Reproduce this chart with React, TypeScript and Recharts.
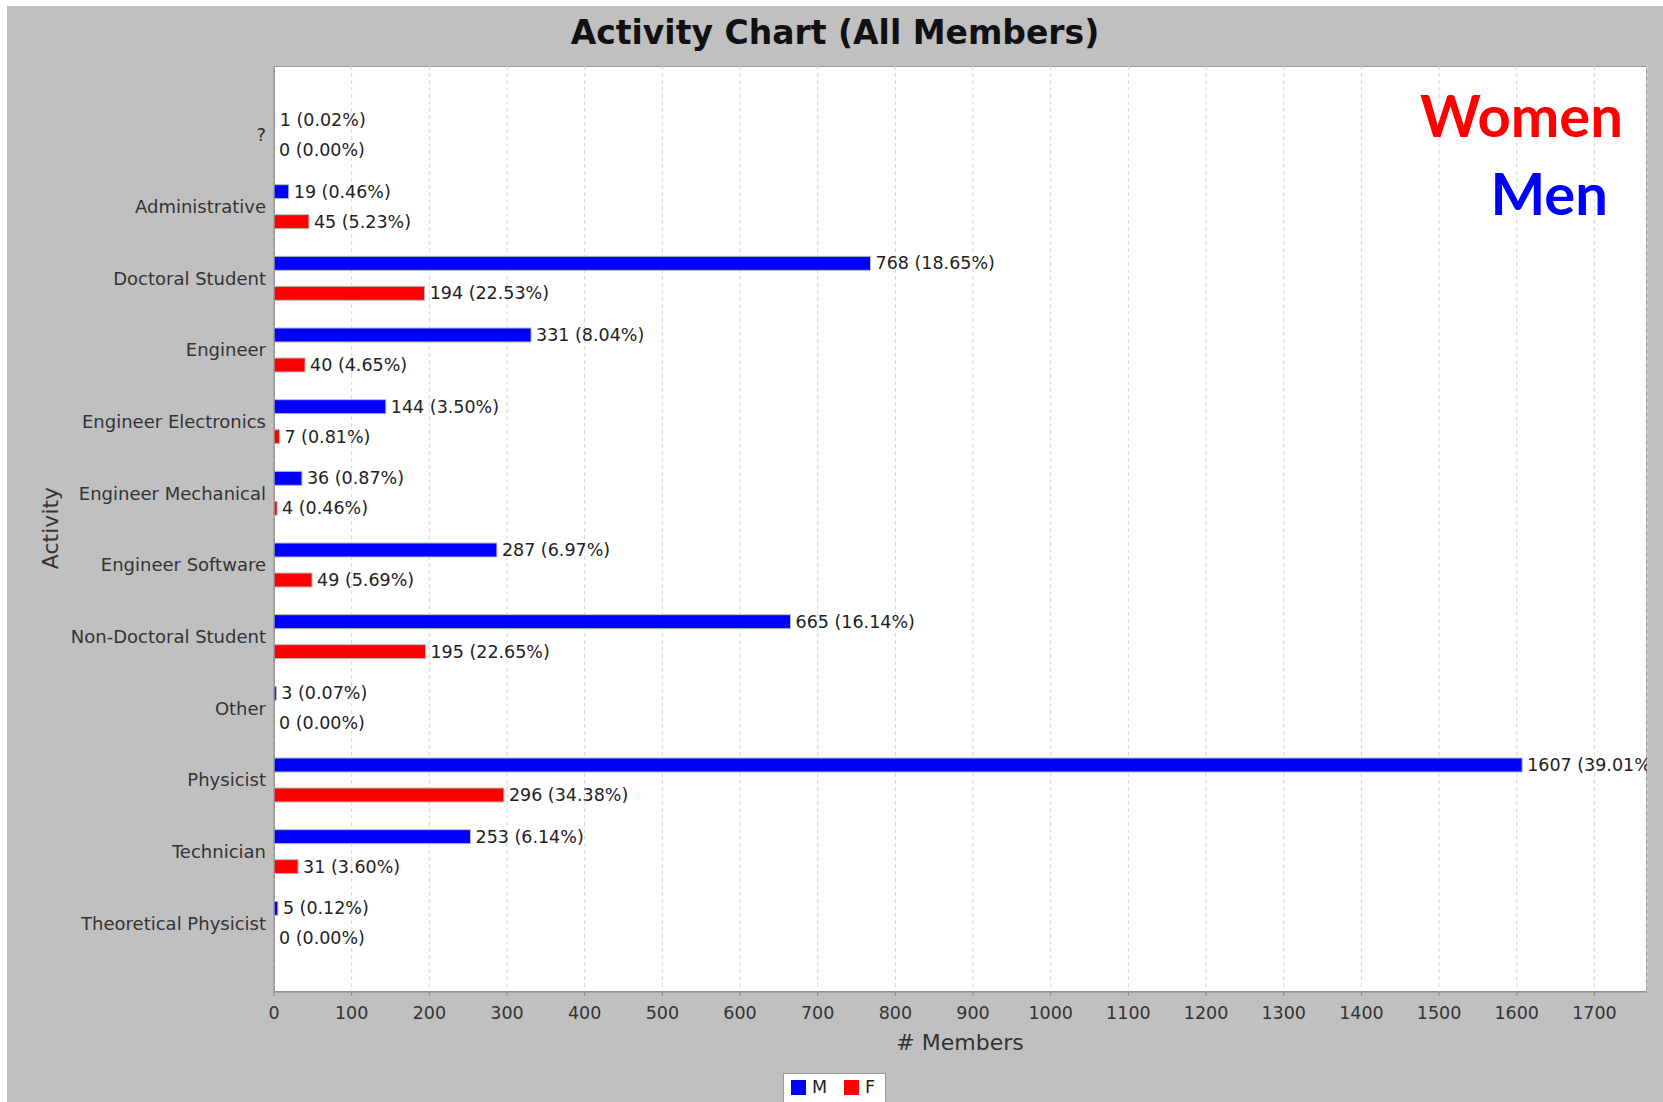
import React from 'react';
import { BarChart, Bar, XAxis, YAxis, CartesianGrid, LabelList, Cell } from 'recharts';

const CATEGORIES = [
    '?',
    'Administrative',
    'Doctoral Student',
    'Engineer',
    'Engineer Electronics',
    'Engineer Mechanical',
    'Engineer Software',
    'Non-Doctoral Student',
    'Other',
    'Physicist',
    'Technician',
    'Theoretical Physicist',
];
const MEN = [1, 19, 768, 331, 144, 36, 287, 665, 3, 1607, 253, 5];
const WOMEN = [0, 45, 194, 40, 7, 4, 49, 195, 0, 296, 31, 0];
const MEN_PCT = ['0.02', '0.46', '18.65', '8.04', '3.50', '0.87', '6.97', '16.14', '0.07', '39.01', '6.14', '0.12'];
const WOMEN_PCT = ['0.00', '5.23', '22.53', '4.65', '0.81', '0.46', '5.69', '22.65', '0.00', '34.38', '3.60', '0.00'];
const X_TICKS = [0, 100, 200, 300, 400, 500, 600, 700, 800, 900, 1000, 1100, 1200, 1300, 1400, 1500, 1600, 1700];

const SERIES = [
    { key: 'M', label: 'mLabel', name: 'M', color: '#0000ff' },
    { key: 'F', label: 'fLabel', name: 'F', color: '#ff0000' },
];

const rows: Record<string, any>[] = CATEGORIES.map((name, i) => ({
    name,
    M: MEN[i],
    F: WOMEN[i],
    mLabel: `${MEN[i]} (${MEN_PCT[i]}%)`,
    fLabel: `${WOMEN[i]} (${WOMEN_PCT[i]}%)`,
}));

const FONT = '"DejaVu Sans", Verdana, sans-serif';
const W = 1656;
const H = 1096;
// plot area inside the chart svg
const PLOT = { left: 267, top: 60, right: 1640, bottom: 986 };

const ValueLabel = (props: any) => {
    const { x, y, width, height, value } = props;
    return (
        <text
            x={Number(x) + Number(width) + 5}
            y={Number(y) + Number(height) / 2}
            dominantBaseline="central"
            fontSize={17.5}
            fontFamily={FONT}
            fill="#222"
            clipPath="url(#plotClip)"
        >
            {value}
        </text>
    );
};

// zero bars get a hair-thin width so their value label still shows
const keepZero = (v: any) => (Number(v) === 0 ? 0.01 : 0);

const App: React.FC = () => {
    return (
        <div style={{ position: 'absolute', left: 7, top: 6, width: W, height: H, background: '#c0c0c0', overflow: 'hidden' }}>
            {/* plot background + border */}
            <div
                style={{
                    position: 'absolute',
                    left: PLOT.left,
                    top: PLOT.top,
                    width: PLOT.right - PLOT.left,
                    height: PLOT.bottom - PLOT.top,
                    background: '#ffffff',
                    border: '1px solid #9a9a9a',
                    boxSizing: 'border-box',
                }}
            />
            <BarChart
                width={W}
                height={H}
                data={rows}
                layout="vertical"
                barGap={16}
                margin={{ top: PLOT.top, right: W - PLOT.right, left: 67, bottom: 60 }}
            >
                <CartesianGrid horizontal={false} stroke="#d6d6d6" strokeDasharray="4 3" />
                <XAxis
                    type="number"
                    domain={[0, (max: number) => max * 1.1]}
                    ticks={X_TICKS}
                    height={50}
                    tickSize={4}
                    tickMargin={11}
                    stroke="#888"
                    tick={{ fill: '#333', fontSize: 17.5, fontFamily: FONT }}
                />
                <YAxis
                    type="category"
                    dataKey="name"
                    width={200}
                    padding={{ top: 33, bottom: 33 }}
                    tickLine={false}
                    tickSize={0}
                    tickMargin={8}
                    stroke="#888"
                    interval={0}
                    tick={{ fill: '#333', fontSize: 18, fontFamily: FONT }}
                />
                {SERIES.map(s => (
                    <Bar
                        key={s.key}
                        dataKey={s.key}
                        name={s.name}
                        fill={s.color}
                        stroke="#bdbdbd"
                        strokeWidth={1}
                        barSize={14}
                        minPointSize={keepZero}
                        isAnimationActive={false}
                    >
                        {rows.map((r, i) => (
                            <Cell key={i} stroke={r[s.key] === 0 ? 'none' : '#bdbdbd'} fill={r[s.key] === 0 ? 'none' : s.color} />
                        ))}
                        <LabelList dataKey={s.label} content={ValueLabel} />
                    </Bar>
                ))}
            </BarChart>

            <svg width={W} height={H} style={{ position: 'absolute', left: 0, top: 0, pointerEvents: 'none' }}>
                <defs>
                    <clipPath id="plotClip">
                        <rect x={PLOT.left} y={PLOT.top} width={PLOT.right - PLOT.left} height={PLOT.bottom - PLOT.top} />
                    </clipPath>
                </defs>
                <text x={W / 2} y={38} textAnchor="middle" fontSize={33} fontWeight="bold" fontFamily={FONT} fill="#111">
                    Activity Chart (All Members)
                </text>
                <text x={953} y={1044} textAnchor="middle" fontSize={22} fontFamily={FONT} fill="#333">
                    # Members
                </text>
                <text x={51} y={522} transform="rotate(-90, 51, 522)" textAnchor="middle" fontSize={22} fontFamily={FONT} fill="#333">
                    Activity
                </text>
                <text x={1616} y={131} textAnchor="end" fontSize={58} fontWeight="bold" fontFamily="Lato, sans-serif" fill="#ff0000">
                    Women
                </text>
                <text x={1601} y={209} textAnchor="end" fontSize={58} fontWeight="bold" fontFamily="Lato, sans-serif" fill="#0000ff">
                    Men
                </text>
            </svg>

            {/* legend */}
            <div
                style={{
                    position: 'absolute',
                    left: 776,
                    top: 1067,
                    width: 103,
                    height: 40,
                    background: '#fff',
                    border: '1px solid #999',
                    boxSizing: 'border-box',
                    display: 'flex',
                    alignItems: 'flex-start',
                    paddingLeft: 7,
                    paddingTop: 6,
                    fontFamily: FONT,
                    fontSize: 17.5,
                    color: '#222',
                }}
            >
                {SERIES.map((s, i) => (
                    <div key={s.key} style={{ display: 'flex', alignItems: 'center', marginRight: i === 0 ? 17 : 0 }}>
                        <span style={{ width: 15, height: 15, background: s.color, display: 'inline-block', marginRight: 6 }} />
                        <span style={{ lineHeight: '15px' }}>{s.name}</span>
                    </div>
                ))}
            </div>
        </div>
    );
};

export default App;
